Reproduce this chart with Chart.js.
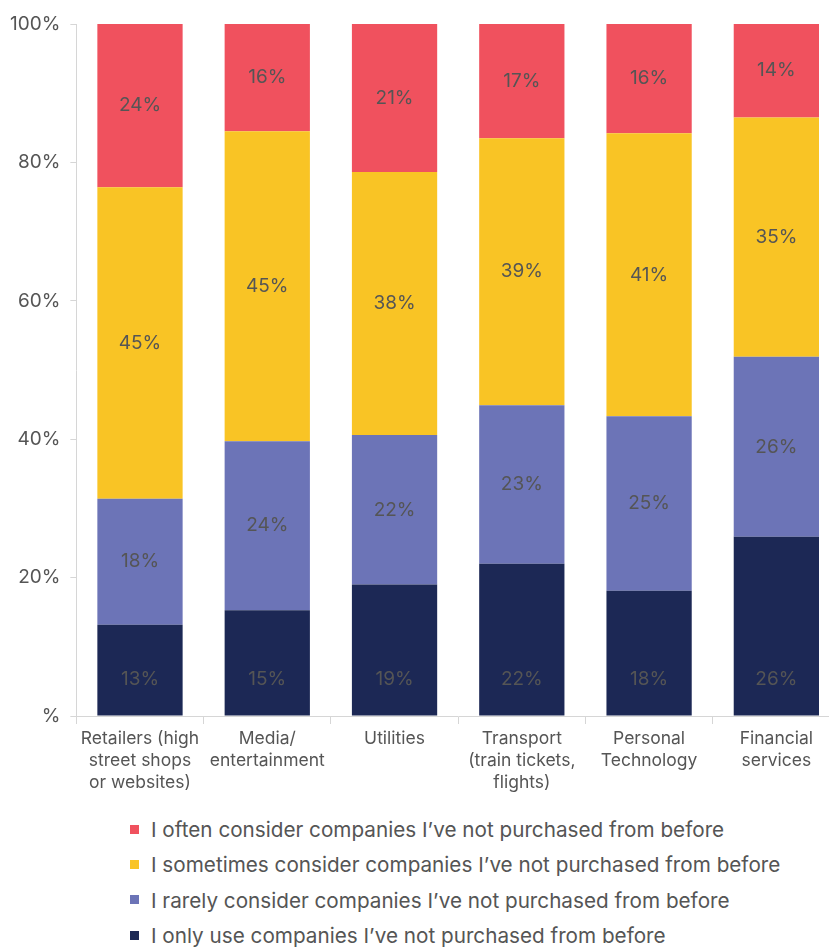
<!DOCTYPE html>
<html>
<head>
<meta charset="utf-8">
<script src="https://cdn.jsdelivr.net/npm/chart.js@4"></script>
<style>
  html, body { margin: 0; padding: 0; background: #fff; overflow: hidden; }
  .wrap { position: relative; width: 840px; height: 798px; }
  #legend { list-style: none; margin: 0; padding: 0; position: absolute; left: 130px; top: 812px; font-family: Inter, "Noto Sans", sans-serif; font-size: 20.7px; color: #555; }
  #legend li { height: 35.3px; line-height: 35.3px; white-space: nowrap; }
  #legend span.box { display: inline-block; width: 9px; height: 9px; margin-right: 12px; vertical-align: middle; position: relative; top: -2px; }
</style>
</head>
<body>
<div class="wrap"><canvas id="stackChart" width="840" height="798"></canvas></div>
<ul id="legend"></ul>
<script>
const categories = [
  ['Retailers (high', 'street shops', 'or websites)'],
  ['Media/', 'entertainment'],
  ['Utilities'],
  ['Transport', '(train tickets,', 'flights)'],
  ['Personal', 'Technology'],
  ['Financial', 'services']
];

// shares per segment (percent)
const onlyUse   = [13.2, 15.3, 19.0, 22.0, 18.1, 25.9];
const rarely    = [18.2, 24.4, 21.6, 22.9, 25.2, 26.0];
const sometimes = [45.0, 44.8, 38.0, 38.6, 40.9, 34.6];
const often     = [23.6, 15.5, 21.4, 16.5, 15.8, 13.5];

const seriesNames = [
  'I only use companies I\u2019ve not purchased from before',
  'I rarely consider companies I\u2019ve not purchased from before',
  'I sometimes consider companies I\u2019ve not purchased from before',
  'I often consider companies I\u2019ve not purchased from before'
];
const seriesColors = ['#1c2855', '#6c74b7', '#f9c425', '#f0515e'];

const yTicks = [0, 20, 40, 60, 80, 100];

const FONT = 'Inter, "Noto Sans", sans-serif';
const TEXT = '#555555';

// value labels: middle of each segment, bottom series sits near the base
const segmentLabels = {
  id: 'segmentLabels',
  afterDatasetsDraw(chart) {
    const ctx = chart.ctx;
    ctx.save();
    ctx.font = '19px ' + FONT;
    ctx.fillStyle = TEXT;
    ctx.textAlign = 'center';
    ctx.textBaseline = 'middle';
    chart.data.datasets.forEach((ds, i) => {
      chart.getDatasetMeta(i).data.forEach((bar, j) => {
        const y = i === 0 ? bar.base - 36 : (bar.y + bar.base) / 2;
        ctx.fillText(Math.round(ds.data[j]) + '%', bar.x, y);
      });
    });
    ctx.restore();
  }
};

const ctx = document.getElementById('stackChart').getContext('2d');

const chart = new Chart(ctx, {
  type: 'bar',
  data: {
    labels: categories,
    datasets: [onlyUse, rarely, sometimes, often].map((d, i) => ({
      label: seriesNames[i],
      data: d,
      backgroundColor: seriesColors[i],
      borderWidth: 0,
      categoryPercentage: 1,
      barPercentage: 0.67
    }))
  },
  options: {
    responsive: false,
    animation: false,
    layout: { padding: { top: 24, left: 0, right: 0, bottom: 0 } },
    plugins: {
      legend: { display: false },
      tooltip: { enabled: false }
    },
    scales: {
      x: {
        stacked: true,
        grid: { drawOnChartArea: false, drawTicks: true, tickLength: 8, color: '#d6d6d6', offset: true },
        border: { color: '#d6d6d6' },
        ticks: { color: TEXT, font: { family: FONT, size: 17.5, lineHeight: 1.257 }, padding: 4, maxRotation: 0, autoSkip: false }
      },
      y: {
        stacked: true,
        min: 0,
        max: 100,
        afterBuildTicks: axis => { axis.ticks = yTicks.map(v => ({ value: v })); },
        grid: { drawOnChartArea: false, drawTicks: true, tickLength: 6, color: '#d6d6d6' },
        border: { color: '#d6d6d6' },
        ticks: {
          color: TEXT,
          font: { family: FONT, size: 19 },
          padding: 10,
          callback: v => v === 0 ? '%' : v + '%'
        }
      }
    }
  },
  plugins: [segmentLabels]
});

// legend, top to bottom in reverse stack order
const legend = document.getElementById('legend');
for (let i = seriesNames.length - 1; i >= 0; i--) {
  const li = document.createElement('li');
  const box = document.createElement('span');
  box.className = 'box';
  box.style.background = seriesColors[i];
  li.appendChild(box);
  li.appendChild(document.createTextNode(seriesNames[i]));
  legend.appendChild(li);
}
</script>
</body>
</html>
